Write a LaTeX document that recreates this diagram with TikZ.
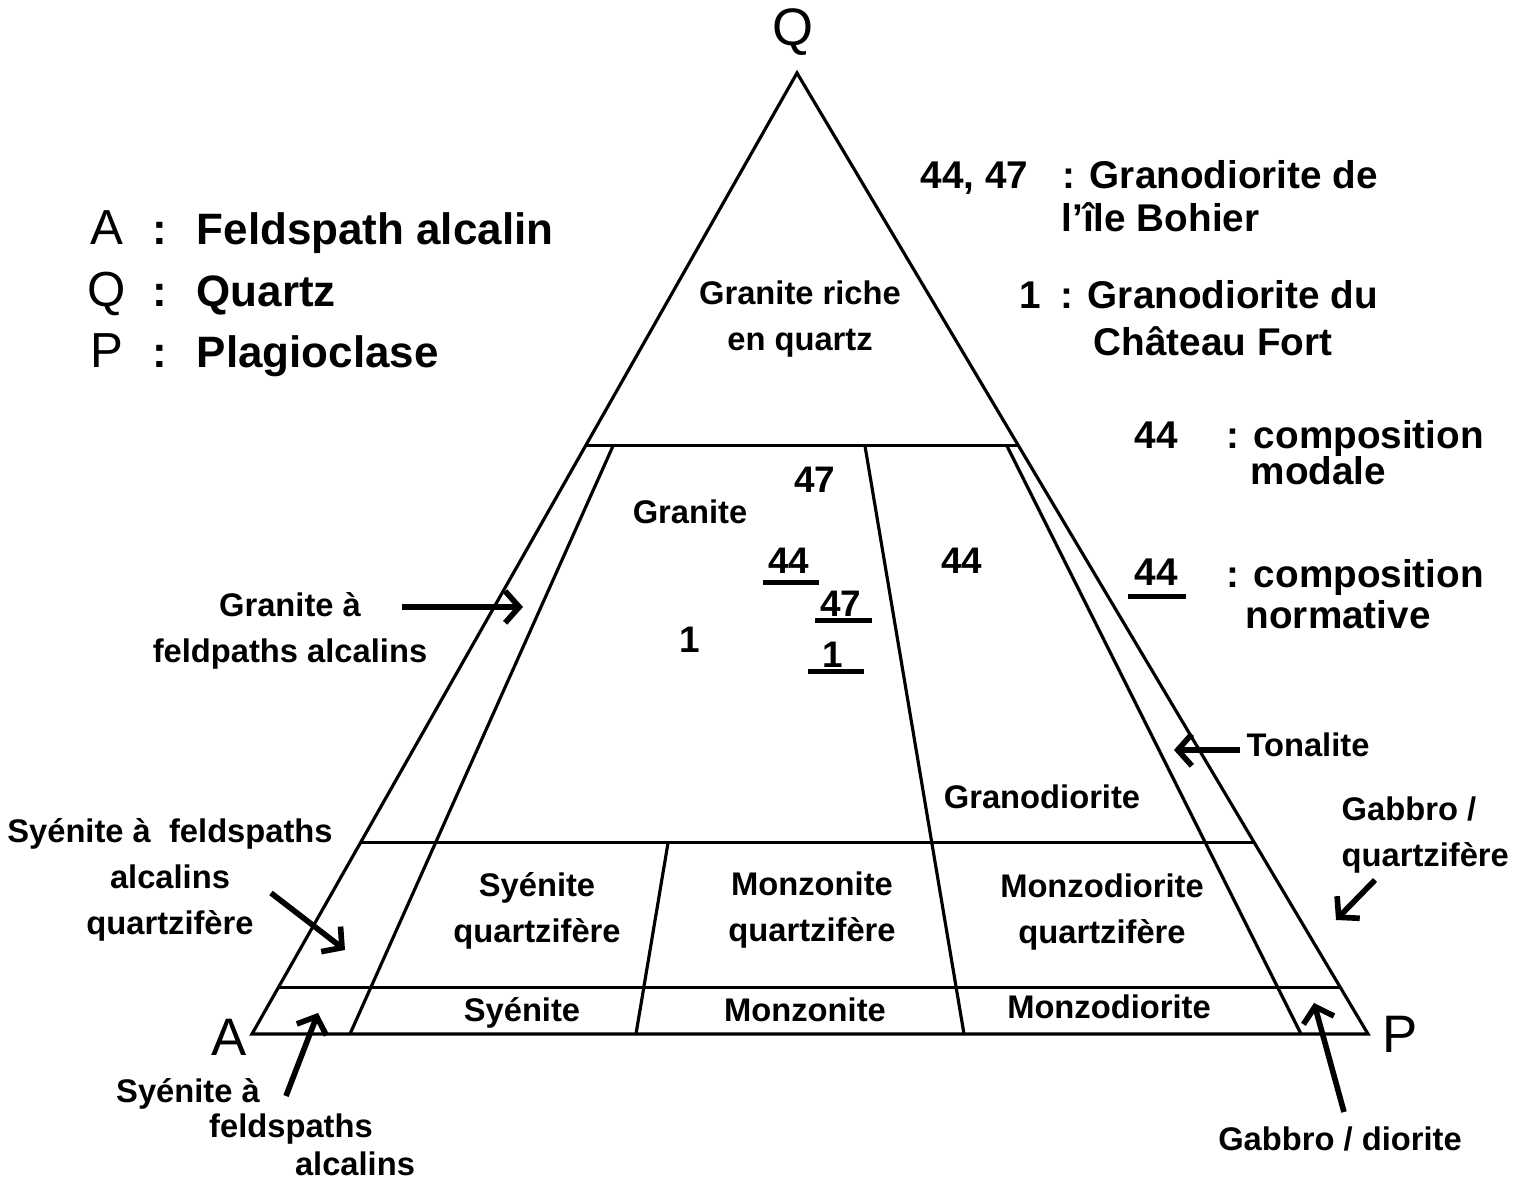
\documentclass[tikz,border=0pt]{standalone}
\usepackage{fontspec}
\setmainfont{Liberation Sans}
\usetikzlibrary{arrows.meta, calc}

\tikzset{
    edge/.style={line width=0.9pt},
    lbl/.style={font=\bfseries\fontsize{9.3}{13}\selectfont, align=center, inner sep=0pt},
    num/.style={font=\bfseries\fontsize{10.5}{13}\selectfont, inner sep=0pt},
    corner/.style={font=\fontsize{15}{17}\selectfont, inner sep=0pt},
    keyletter/.style={font=\fontsize{14}{16}\selectfont, anchor=base, inner sep=0pt},
    keytxt/.style={font=\bfseries\fontsize{12.5}{15}\selectfont, anchor=base west, inner sep=0pt},
    note/.style={font=\bfseries\fontsize{11}{13}\selectfont, anchor=base west, inner sep=0pt},
    pointer/.style={line width=1.6pt, -{Straight Barb[length=4pt, width=9pt]}},
    uline/.style={line width=1.3pt},
}

\begin{document}
\begin{tikzpicture}[x=0.01cm, y=-0.01cm]
    \useasboundingbox (0,0) rectangle (1532,1180);

    % Corners of the QAP triangle
    \coordinate (Q) at (797,73);
    \coordinate (A) at (252,1034);
    \coordinate (P) at (1368,1034);

    % Horizontal limits (about 60, 20 and 5 % quartz)
    \foreach \n/\t in {sixty/0.612, twenty/0.199, five/0.048} {
        \coordinate (\n L) at ($(A)!\t!(Q)$);
        \coordinate (\n R) at ($(P)!\t!(Q)$);
    }

    \draw[edge] (A) -- (Q) -- (P) -- cycle;
    \foreach \n in {sixty, twenty, five} {
        \draw[edge] (\n L) -- (\n R);
    }

    % Field boundaries
    \coordinate (afTop) at (613,446);  \coordinate (afBot) at (350,1034);
    \coordinate (grTop) at (865,446);  \coordinate (grBot) at (964,1034);
    \coordinate (toTop) at (1007,446); \coordinate (toBot) at (1301,1034);
    \coordinate (syTop) at (668,843);  \coordinate (syBot) at (636,1034);
    \draw[edge] (afTop) -- (afBot);
    \draw[edge] (grTop) -- (grBot);
    \draw[edge] (toTop) -- (toBot);
    \draw[edge] (syTop) -- (syBot);

    % Poles
    \node[corner] (qLab) at (793,32) {Q};
    \node[corner] (aLab) at (229,1037) {A};
    \node[corner] (pLab) at (1400,1034) {P};

    % Key of the poles
    \foreach \n/\l/\w/\y in {keyA/A/Feldspath alcalin/245, keyQ/Q/Quartz/307, keyP/P/Plagioclase/368} {
        \node[keyletter] (\n) at (107,\y) {\l};
        \node[keytxt] (\n col) at (152,\y) {:};
        \node[keytxt] (\n txt) at (196,\y) {\w};
    }

    % Key of the samples
    \node[note] (smpA) at (920,189) {44, 47};
    \node[note] (smpAtxt) at (1062,189) {: Granodiorite de};
    \node[note] (smpAtxt2) at (1061,232) {l'île Bohier};
    \node[note] (smpB) at (1019,309) {1};
    \node[note] (smpBtxt) at (1060,309) {: Granodiorite du};
    \node[note] (smpBtxt2) at (1093,356) {Château Fort};
    \node[note] (modNum) at (1134,449) {44};
    \node[note] (modTxt) at (1226,449) {: composition};
    \node[note] (modTxt2) at (1250,485) {modale};
    \node[note] (normNum) at (1134,586) {44};
    \node[note] (normTxt) at (1226,588) {: composition};
    \node[note] (normTxt2) at (1245,629) {normative};
    \draw[uline] ($(normNum.south)+(-28,10)$) -- ++(58,0);

    % Fields
    \node[lbl] (riche) at (800,319) {Granite riche\\en quartz};
    \node[lbl] (granite) at (690,512) {Granite};
    \node[lbl] (granodio) at (1042,797) {Granodiorite};
    \node[lbl] (syQz) at (537,911) {Syénite\\quartzifère};
    \node[lbl] (moQz) at (812,910) {Monzonite\\quartzifère};
    \node[lbl] (mdQz) at (1102,912) {Monzodiorite\\quartzifère};
    \node[lbl] (sy) at (522,1013) {Syénite};
    \node[lbl] (mo) at (805,1010) {Monzonite};
    \node[lbl] (md) at (1109,1007) {Monzodiorite};

    % Samples
    \node[num] (m47) at (815,480) {47};
    \node[num] (m44) at (962,561) {44};
    \node[num] (m1) at (690,640) {1};
    \node[num] (n44) at (789,561) {44};
    \node[num] (n47) at (841,604) {47};
    \node[num] (n1) at (833,655) {1};
    \draw[uline] ($(n44.south)+(-26,8)$) -- ++(56,0);
    \draw[uline] ($(n47.south)+(-26,3)$) -- ++(57,0);
    \draw[uline] ($(n1.south)+(-25,3)$) -- ++(56,0);

    % Fields named outside the triangle
    \node[lbl] (grAf) at (290,631) {Granite à\\feldpaths alcalins};
    \node[lbl] (syAfQz) at (170,880) {Syénite à\ \ feldspaths\\alcalins\\quartzifère};
    \node[lbl] (syAf1) at (188,1094) {Syénite à};
    \node[lbl] (syAf2) at (291,1129) {feldspaths};
    \node[lbl] (syAf3) at (355,1164) {alcalins};
    \node[lbl] (tona) at (1308,745) {Tonalite};
    \node[lbl, align=left, anchor=west] (gaQz) at (1341,835) {Gabbro /\\quartzifère};
    \node[lbl] (gaDi) at (1340,1139) {Gabbro / diorite};

    % Pointers
    \coordinate (grAfTail) at (402,607);   \coordinate (grAfTip) at (523,607);
    \coordinate (syAfQzTail) at (271,893); \coordinate (syAfQzTip) at (345,950);
    \coordinate (syAfTail) at (286,1096);  \coordinate (syAfTip) at (318,1013);
    \coordinate (tonaTail) at (1240,750);  \coordinate (tonaTip) at (1174,750);
    \coordinate (gaQzTail) at (1375,880);  \coordinate (gaQzTip) at (1336,920);
    \coordinate (gaDiTail) at (1344,1112); \coordinate (gaDiTip) at (1314,1003);
    \draw[pointer] (grAfTail) -- (grAfTip);
    \draw[pointer] (syAfQzTail) -- (syAfQzTip);
    \draw[pointer] (syAfTail) -- (syAfTip);
    \draw[pointer] (tonaTail) -- (tonaTip);
    \draw[pointer] (gaQzTail) -- (gaQzTip);
    \draw[pointer] (gaDiTail) -- (gaDiTip);
\end{tikzpicture}
\end{document}
